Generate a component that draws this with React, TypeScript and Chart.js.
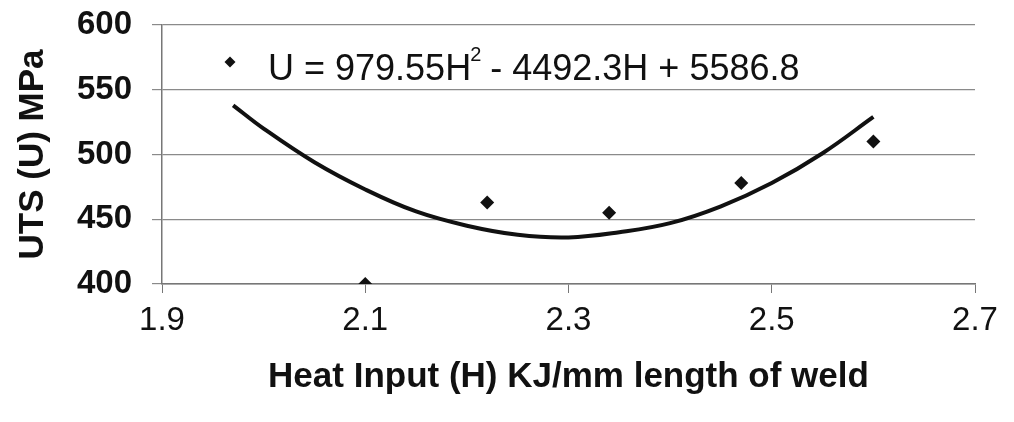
import React, { useEffect, useRef } from "react";
import { Chart, registerables } from "chart.js";

Chart.register(...registerables);

// Measured points (Heat input H, UTS U)
const H_VALUES = [2.1, 2.22, 2.34, 2.47, 2.6];
const U_VALUES = [400, 463, 455, 478, 510];

// Trendline
const TREND_H = [1.97, 2.0, 2.05, 2.1, 2.15, 2.2, 2.25, 2.3, 2.35, 2.4, 2.45, 2.5, 2.55, 2.6];
const TREND_U = [538, 520, 494, 473, 456, 445, 438, 436, 440, 447, 460, 478, 501, 529];

const X_TICKS = [1.9, 2.1, 2.3, 2.5, 2.7];
const Y_TICKS = [400, 450, 500, 550, 600];

const EQ_MAIN = "U = 979.55H";
const EQ_SUP = "2";
const EQ_REST = " - 4492.3H + 5586.8";
const X_TITLE = "Heat Input (H) KJ/mm length of weld";
const Y_TITLE = "UTS (U) MPa";

const FONT = "'Liberation Sans', Arial, Helvetica, sans-serif";

const equationPlugin = {
  id: "equationLabel",
  afterDraw(chart: any) {
    const { ctx, chartArea } = chart;
    ctx.save();
    // diamond marker
    const mx = chartArea.left + 68;
    const my = chartArea.top + 37;
    const r = 5.5;
    ctx.fillStyle = "#111";
    ctx.beginPath();
    ctx.moveTo(mx, my - r);
    ctx.lineTo(mx + r, my);
    ctx.lineTo(mx, my + r);
    ctx.lineTo(mx - r, my);
    ctx.closePath();
    ctx.fill();
    // equation text
    let x = chartArea.left + 106;
    const base = chartArea.top + 55;
    ctx.textBaseline = "alphabetic";
    ctx.textAlign = "left";
    ctx.font = `normal 36px ${FONT}`;
    ctx.fillText(EQ_MAIN, x, base);
    x += ctx.measureText(EQ_MAIN).width;
    ctx.font = `normal 20px ${FONT}`;
    ctx.fillText(EQ_SUP, x - 1, base - 19);
    x += ctx.measureText(EQ_SUP).width - 2;
    ctx.font = `normal 36px ${FONT}`;
    ctx.fillText(EQ_REST, x, base);
    ctx.restore();
  },
};

export default function App() {
  const ref = useRef<HTMLCanvasElement | null>(null);
  useEffect(() => {
    if (!ref.current) return;
    const chart = new Chart(ref.current, {
      type: "scatter",
      data: {
        datasets: [
          {
            label: "UTS",
            data: H_VALUES.map((h, i) => ({ x: h, y: U_VALUES[i] })),
            pointStyle: "rectRot",
            pointRadius: 7,
            backgroundColor: "#111",
            borderColor: "#111",
            borderWidth: 0,
            showLine: false,
            order: 1,
          },
          {
            label: "Trend",
            data: TREND_H.map((h, i) => ({ x: h, y: TREND_U[i] })),
            showLine: true,
            pointRadius: 0,
            borderColor: "#111",
            borderWidth: 4,
            tension: 0.4,
            fill: false,
            order: 2,
          },
        ],
      },
      options: {
        animation: false,
        responsive: false,
        layout: { padding: { left: 0, right: 39, top: 0, bottom: 0 } },
        plugins: { legend: { display: false }, tooltip: { enabled: false } },
        scales: {
          x: {
            type: "linear",
            min: 1.9,
            max: 2.7,
            afterBuildTicks: (s: any) => {
              s.ticks = X_TICKS.map((v) => ({ value: v }));
            },
            afterFit: (s: any) => {
              s.height = 138;
            },
            grid: {
              drawOnChartArea: false,
              drawTicks: true,
              tickLength: 9,
              color: "#777",
            },
            border: { display: true, color: "#777", width: 1.5 },
            ticks: {
              color: "#111",
              font: { family: FONT, size: 33, weight: "normal" },
              padding: 8,
              maxRotation: 0,
              callback: (v: any) => Number(v).toFixed(1),
            },
            title: {
              display: true,
              text: X_TITLE,
              color: "#111",
              font: { family: FONT, size: 35, weight: "bold" },
              padding: { top: 0, bottom: 24 },
            },
          },
          y: {
            type: "linear",
            min: 400,
            max: 600,
            afterBuildTicks: (s: any) => {
              s.ticks = Y_TICKS.map((v) => ({ value: v }));
            },
            afterFit: (s: any) => {
              s.width = 162;
              s.paddingTop = 25;
              s.paddingBottom = 10;
            },
            grid: {
              drawOnChartArea: true,
              drawTicks: true,
              tickLength: 10,
              color: "#8a8a8a",
              lineWidth: 1.2,
            },
            border: { display: true, color: "#777", width: 1.5 },
            ticks: {
              color: "#111",
              font: { family: FONT, size: 33, weight: "bold" },
              padding: 20,
            },
            title: {
              display: true,
              text: Y_TITLE,
              color: "#111",
              font: { family: FONT, size: 35, weight: "bold" },
              padding: { top: 12, bottom: 0 },
            },
          },
        },
      },
      plugins: [equationPlugin],
    });
    return () => chart.destroy();
  }, []);
  return (
    <div style={{ position: "absolute", left: 0, top: 0, width: 1014, height: 422, background: "#fff" }}>
      <canvas ref={ref} width={1014} height={422} style={{ display: "block" }} />
    </div>
  );
}
